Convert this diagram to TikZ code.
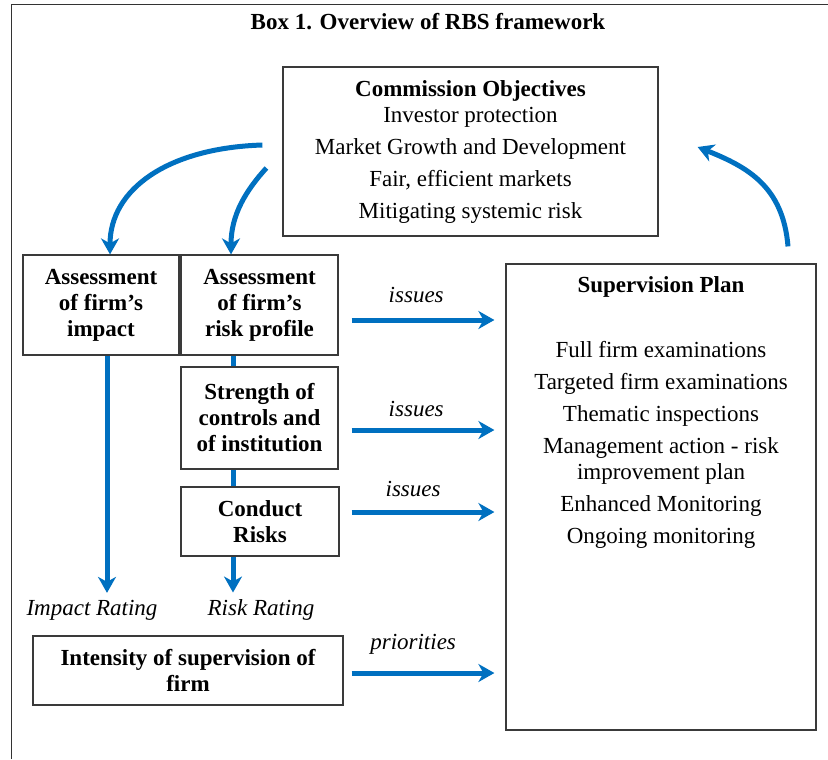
\documentclass[tikz,border=0pt]{standalone}
\usepackage{fontspec}
\setmainfont{Liberation Serif}
\usetikzlibrary{arrows.meta,calc,positioning}
\definecolor{FlowBlue}{HTML}{0070C0}
\definecolor{BoxEdge}{HTML}{3A3A3A}
\tikzset{
  every node/.style={font=\fontsize{11.5}{13}\selectfont},
  box/.style={draw=BoxEdge,line width=0.6pt,align=center,inner sep=0pt},
  boldbox/.style={box,font=\fontsize{11.5}{13}\selectfont\bfseries},
  tag/.style={font=\fontsize{11.5}{13}\selectfont\itshape},
  flow/.style={line width=2.5pt,draw=FlowBlue,-{Stealth[length=8pt,width=9pt,inset=2.5pt]}},
  link/.style={line width=2.5pt,draw=FlowBlue},
}

\begin{document}
\begin{tikzpicture}[x=0.5pt,y=-0.5pt]
  \useasboundingbox (0,0) rectangle (828,759);
  % --- frame and heading ---
  \draw[line width=0.5pt,black!80] (11,759) -- (11,5) -- (828,5);
  \node[font=\fontsize{11.5}{13}\selectfont\bfseries] (title) at (428,22) {Box 1. Overview of RBS framework};
  % --- objectives ---
  \node[box,minimum width=187.5pt,minimum height=84.5pt,text depth=2pt] (obj) at (470.5,151.5)
    {\textbf{Commission Objectives}\\Investor protection\\[3pt]Market Growth and Development\\[3pt]Fair, efficient markets\\[3pt]Mitigating systemic risk};
  % --- assessment column ---
  \node[boldbox,minimum width=78pt,minimum height=50pt] (impact) at (101,305) {Assessment\\of firm’s\\impact};
  \node[boldbox,minimum width=78.5pt,minimum height=50pt] (riskprof) at (259.5,305) {Assessment\\of firm’s\\risk profile};
  \node[boldbox,minimum width=78.5pt,minimum height=51pt] (strength) at (259.5,418) {Strength of\\controls and\\of institution};
  \node[boldbox,minimum width=79pt,minimum height=34.5pt] (conduct) at (260,521.5) {Conduct\\Risks};
  \node[tag] (impactrating) at (92,610) {Impact Rating};
  \node[tag] (riskrating) at (261,610) {Risk Rating};
  \node[boldbox,minimum width=155pt,minimum height=34.5pt] (intensity) at (188,670.5) {Intensity of supervision of\\firm};
  % --- supervision plan ---
  \node[box,minimum width=155pt,minimum height=233pt] (plan) at (661,497) {};
  \node[font=\fontsize{11.5}{13}\selectfont\bfseries] (plantitle) at ([yshift=-12pt]plan.north) {Supervision Plan};
  \node[align=center] (planitems) at (661,445)
    {Full firm examinations\\[3pt]Targeted firm examinations\\[3pt]Thematic inspections\\[3pt]Management action - risk\\improvement plan\\[3pt]Enhanced Monitoring\\[3pt]Ongoing monitoring};
  % --- curved arrows ---
  \draw[flow] ([xshift=-10pt,yshift=3.25pt]obj.west) .. controls +(-95,3) and +(0,-65) .. ([xshift=4.5pt]impact.north);
  \draw[flow] ([xshift=-8pt,yshift=-8.25pt]obj.west) .. controls +(-20,22) and +(0,-40) .. ([xshift=-14.25pt]riskprof.north);
  \draw[flow] ([xshift=63.5pt,yshift=8.5pt]plan.north) .. controls +(-5,-60) and +(50,20) .. ([xshift=19.5pt,yshift=2.25pt]obj.east);
  % --- ratings ---
  \coordinate (impactfoot) at ([xshift=3pt]impact.south);
  \draw[flow] (impactfoot) -- (impactfoot |- impactrating.north);
  \coordinate (spine) at ([xshift=-13.25pt]riskprof.south);
  \draw[link] (spine) -- (spine |- strength.north);
  \draw[link] (spine |- strength.south) -- (spine |- conduct.north);
  \draw[flow] (spine |- conduct.south) -- (spine |- riskrating.north);
  % --- issues / priorities ---
  \draw[flow,shorten >=5.5pt] ([xshift=6.5pt,yshift=-7.5pt]riskprof.east) coordinate (i1)
    -- node[tag,pos=0.42,above=4pt] (issuesa) {issues} (i1 -| plan.west);
  \draw[flow,shorten >=5.5pt] ([xshift=6.5pt,yshift=-6pt]strength.east) coordinate (i2)
    -- node[tag,pos=0.42,above=1.8pt] (issuesb) {issues} (i2 -| plan.west);
  \draw[flow,shorten >=5.5pt] ([xshift=6pt,yshift=4.75pt]conduct.east) coordinate (i3)
    -- node[tag,pos=0.40,above=3pt] (issuesc) {issues} (i3 -| plan.west);
  \draw[flow,shorten >=5.5pt] ([xshift=4pt,yshift=-1.25pt]intensity.east) coordinate (i4)
    -- node[tag,pos=0.40,above=4.6pt] (prio) {priorities} (i4 -| plan.west);
\end{tikzpicture}
\end{document}
